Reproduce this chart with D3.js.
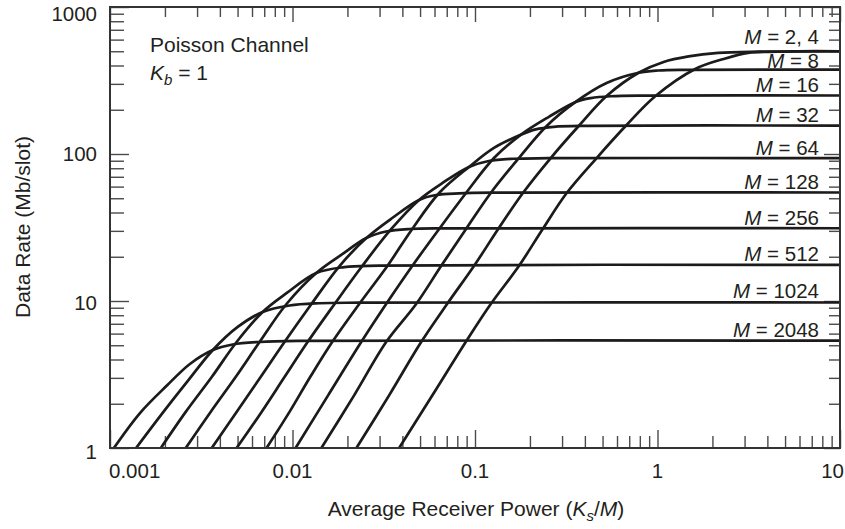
<!DOCTYPE html>
<html><head><meta charset="utf-8">
<script src="https://cdn.jsdelivr.net/npm/d3@7"></script>
<style>
body{margin:0;background:#fff}
svg{display:block}
text{font-family:"Liberation Sans",Arial,Helvetica,sans-serif;fill:#231f20}
</style>
</head><body>
<svg id="chart" width="845" height="529"></svg>
<script>
// ---- data ----
const xTickValues = [0.001, 0.01, 0.1, 1, 10];
const xTickLabels = ["0.001", "0.01", "0.1", "1", "10"];
const yTickValues = [1, 10, 100, 1000];
const yTickLabels = ["1", "10", "100", "1000"];

const seriesM = [2048, 1024, 512, 256, 128, 64, 32, 16, 8, 4, 2];

const power2048 = [0.00105, 0.00146, 0.00205, 0.00274, 0.00366, 0.00470, 0.00660, 0.0109, 10];
const rate2048  = [1, 1.73, 2.66, 3.73, 4.64, 5.06, 5.26, 5.35, 5.37];
const power1024 = [0.00139, 0.00192, 0.00267, 0.00366, 0.00501, 0.00686, 0.00963, 0.0140, 0.0232, 10];
const rate1024  = [1, 1.70, 2.86, 4.64, 6.66, 8.42, 9.32, 9.65, 9.74, 9.77];
const power512 = [0.00190, 0.00260, 0.00361, 0.00494, 0.00686, 0.00927, 0.0135, 0.0192, 0.0299, 10];
const rate512  = [1, 1.76, 3.04, 5.26, 8.42, 11.3, 15.5, 17.0, 17.4, 17.6];
const power256 = [0.00260, 0.00356, 0.00488, 0.00660, 0.00927, 0.0135, 0.0185, 0.0254, 0.0326, 0.0436, 0.0721, 10];
const rate256  = [1, 1.76, 3.04, 5.26, 9.54, 15.5, 20.6, 26.8, 29.7, 30.9, 31.2, 31.25];
const power128 = [0.00361, 0.00494, 0.00669, 0.00904, 0.0127, 0.0181, 0.0254, 0.0352, 0.0494, 0.0612, 0.0818, 0.135, 10];
const rate128  = [1, 1.76, 3.04, 5.26, 9.54, 17.3, 26.8, 36.7, 48.7, 52.6, 54.0, 54.6, 54.7];
const power64 = [0.00494, 0.00677, 0.00904, 0.0121, 0.0170, 0.0241, 0.0348, 0.0494, 0.0677, 0.0927, 0.119, 0.163, 0.254, 10];
const rate64  = [1, 1.76, 3.04, 5.26, 9.54, 17.3, 30.9, 48.7, 64.5, 81.6, 89.6, 92.8, 93.6, 93.8];
const power32 = [0.00721, 0.00963, 0.0125, 0.0165, 0.0232, 0.0331, 0.0453, 0.0636, 0.0927, 0.127, 0.178, 0.215, 0.270, 0.420, 10];
const rate32  = [1, 1.76, 3.04, 5.26, 9.54, 17.3, 30.9, 54.3, 81.6, 110, 135, 147, 153, 155.5, 156];
const power16 = [0.0104, 0.0157, 0.0238, 0.0326, 0.0453, 0.0636, 0.0893, 0.127, 0.178, 0.254, 0.356, 0.431, 0.553, 0.893, 10];
const rate16  = [1, 2.29, 5.26, 9.54, 17.3, 30.9, 54.3, 93.9, 135, 179, 226, 240, 247, 249.6, 250];
const power8 = [0.0144, 0.0218, 0.0326, 0.0476, 0.0652, 0.0893, 0.122, 0.174, 0.247, 0.356, 0.526, 0.788, 1.01, 1.48, 10];
const rate8  = [1, 2.29, 5.26, 9.54, 17.3, 30.9, 54.3, 93.9, 155, 226, 304, 357, 370, 374, 375];
const power4 = [0.0224, 0.0339, 0.0507, 0.0703, 0.0987, 0.134, 0.183, 0.260, 0.370, 0.526, 0.788, 1.08, 1.48, 2.15, 3.56, 5.90, 10];
const rate4  = [1, 2.29, 5.26, 9.54, 17.3, 30.9, 54.3, 93.9, 155, 248, 357, 423, 461, 487, 497, 500, 500];
const power2 = [0.0384, 0.0590, 0.0904, 0.122, 0.174, 0.235, 0.318, 0.464, 0.669, 0.975, 1.61, 2.30, 3.14, 4.58, 10];
const rate2  = [1, 2.33, 5.43, 9.54, 17.3, 30.9, 54.3, 93.9, 155, 248, 379, 443, 487, 496, 500];

const curveLabels = ["2, 4", "8", "16", "32", "64", "128", "256", "512", "1024", "2048"];
const curveLevels = [500, 375, 250, 156, 93.8, 54.7, 31.3, 17.6, 9.77, 5.37];

// ---- drawing ----
const powers = {2048: power2048, 1024: power1024, 512: power512, 256: power256, 128: power128,
  64: power64, 32: power32, 16: power16, 8: power8, 4: power4, 2: power2};
const rates = {2048: rate2048, 1024: rate1024, 512: rate512, 256: rate256, 128: rate128,
  64: rate64, 32: rate32, 16: rate16, 8: rate8, 4: rate4, 2: rate2};

const svg = d3.select("#chart");
const L = 110, R = 840, T = 7, B = 448;
const x = d3.scaleLog().domain([0.001, 10]).range([L, R]);
const y = d3.scaleLog().domain([1, 1000]).range([B, T]);

svg.append("defs").append("clipPath").attr("id", "plotclip")
  .append("rect").attr("x", L).attr("y", T).attr("width", R - L).attr("height", B - T);

// minor tick values
const xMinor = [], yMinor = [];
[0.001, 0.01, 0.1, 1].forEach(d => { for (let k = 2; k <= 9; k++) xMinor.push(d * k); });
[1, 10, 100].forEach(d => { for (let k = 2; k <= 9; k++) yMinor.push(d * k); });

const tickColor = "#4a4a4a";
function styleAxis(g) {
  g.select(".domain").remove();
  g.selectAll(".tick line").attr("stroke", tickColor).attr("stroke-width", 1.4);
  g.selectAll(".tick text").remove();
}
// bottom
svg.append("g").attr("transform", `translate(0,${B})`).call(d3.axisBottom(x).tickValues(xMinor).tickSize(-12)).call(styleAxis);
svg.append("g").attr("transform", `translate(0,${B})`).call(d3.axisBottom(x).tickValues(xTickValues).tickSize(-18)).call(styleAxis);
// top
svg.append("g").attr("transform", `translate(0,${T})`).call(d3.axisTop(x).tickValues(xMinor).tickSize(-10)).call(styleAxis);
svg.append("g").attr("transform", `translate(0,${T})`).call(d3.axisTop(x).tickValues(xTickValues).tickSize(-15)).call(styleAxis);
// left
svg.append("g").attr("transform", `translate(${L},0)`).call(d3.axisLeft(y).tickValues(yMinor).tickSize(-14)).call(styleAxis);
svg.append("g").attr("transform", `translate(${L},0)`).call(d3.axisLeft(y).tickValues(yTickValues).tickSize(-19)).call(styleAxis);
// right
svg.append("g").attr("transform", `translate(${R},0)`).call(d3.axisRight(y).tickValues(yMinor).tickSize(-11)).call(styleAxis);
svg.append("g").attr("transform", `translate(${R},0)`).call(d3.axisRight(y).tickValues(yTickValues).tickSize(-16)).call(styleAxis);

// curves
const line = d3.line().x(d => x(d[0])).y(d => y(d[1])).curve(d3.curveCatmullRom.alpha(0.5));
const gC = svg.append("g").attr("clip-path", "url(#plotclip)");
seriesM.forEach(m => {
  const pts = powers[m].map((p, i) => [p, rates[m][i]]);
  gC.append("path").datum(pts).attr("d", line)
    .attr("fill", "none").attr("stroke", "#1c1a1b").attr("stroke-width", 2.7)
    .attr("stroke-linejoin", "round");
});

// frame
svg.append("rect").attr("x", L).attr("y", T).attr("width", R - L).attr("height", B - T)
  .attr("fill", "none").attr("stroke", "#333").attr("stroke-width", 2);

// tick labels
const fs = 20.5;
xTickLabels.forEach((t, i) => {
  const v = xTickValues[i];
  let anchor = "middle", px = x(v);
  if (i === 0) { anchor = "start"; px = x(v) - 1; }
  if (i === xTickLabels.length - 1) { anchor = "end"; px = x(v) + 4; }
  svg.append("text").attr("x", px).attr("y", 478).attr("text-anchor", anchor)
    .attr("font-size", fs).text(t);
});
const yLabelShift = [4, 2, 0, 7];
yTickLabels.forEach((t, i) => {
  svg.append("text").attr("x", 97).attr("y", y(yTickValues[i]) + yLabelShift[i])
    .attr("dy", "0.36em").attr("text-anchor", "end")
    .attr("font-size", fs).text(t);
});

// curve labels (the two top ones are nudged apart slightly)
const labelGap = [7, 2, 3.5, 3.5, 3.5, 3.5, 3.5, 3.5, 4, 4];
curveLabels.forEach((t, i) => {
  const tx = svg.append("text").attr("x", 819).attr("y", y(curveLevels[i]) - labelGap[i])
    .attr("text-anchor", "end").attr("font-size", 20.5);
  tx.append("tspan").attr("font-style", "italic").text("M");
  tx.append("tspan").text(" = " + t);
});

// annotation
svg.append("text").attr("x", 150).attr("y", 52).attr("font-size", 21).text("Poisson Channel");
const kb = svg.append("text").attr("x", 150).attr("y", 80).attr("font-size", 21);
kb.append("tspan").attr("font-style", "italic").text("K");
kb.append("tspan").attr("font-style", "italic").attr("font-size", 15).attr("dy", 5).text("b");
kb.append("tspan").attr("dy", -5).text(" = 1");

// axis titles
const xt = svg.append("text").attr("x", 476).attr("y", 516).attr("text-anchor", "middle").attr("font-size", 21);
xt.append("tspan").text("Average Receiver Power (");
xt.append("tspan").attr("font-style", "italic").text("K");
xt.append("tspan").attr("font-style", "italic").attr("font-size", 15).attr("dy", 5).text("s");
xt.append("tspan").attr("dy", -5).text("/");
xt.append("tspan").attr("font-style", "italic").text("M");
xt.append("tspan").text(")");

svg.append("text").attr("transform", "translate(30,227) rotate(-90)").attr("text-anchor", "middle")
  .attr("font-size", 21).text("Data Rate (Mb/slot)");
</script>
</body></html>
